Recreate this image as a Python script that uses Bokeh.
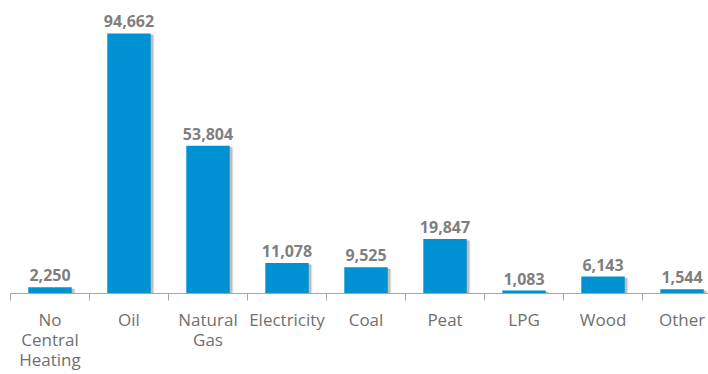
from bokeh.plotting import figure
from bokeh.models import Range1d, FixedTicker, ColumnDataSource, LabelSet
from bokeh.transform import dodge
from bokeh.core.properties import value
from bokeh.embed import file_html
from bokeh.resources import INLINE

categories = ["No\nCentral\nHeating", "Oil", "Natural\nGas", "Electricity", "Coal",
              "Peat", "LPG", "Wood", "Other"]
values = [2250, 94662, 53804, 11078, 9525, 19847, 1083, 6143, 1544]
value_labels = ["2,250", "94,662", "53,804", "11,078", "9,525", "19,847", "1,083", "6,143", "1,544"]

xs = [i + 0.5 for i in range(len(categories))]
src = ColumnDataSource(dict(x=xs, top=values, lab=value_labels))

p = figure(frame_width=698, frame_height=293, output_backend="svg", toolbar_location=None,
           x_range=Range1d(0, 8.835), y_range=Range1d(0, 106660),
           min_border_left=10, min_border_right=0, min_border_top=0, min_border_bottom=0)
p.outline_line_color = None
p.grid.visible = False
p.yaxis.visible = False

# soft shadow
p.vbar(x=dodge("x", 0.045, range=p.x_range), top=dodge("top", -600, range=p.y_range),
       width=0.55, color="#000000", alpha=0.12, line_color=None, source=src)
p.vbar(x=dodge("x", 0.03, range=p.x_range), top=dodge("top", -400, range=p.y_range),
       width=0.55, color="#000000", alpha=0.15, line_color=None, source=src)
p.vbar(x="x", top="top", width=0.55, color="#0091D2", line_color=None, source=src)

labels = LabelSet(x="x", y="top", text="lab", source=src, text_align="center",
                  text_baseline="bottom", y_offset=6, text_font=value("Open Sans"),
                  text_font_style="bold", text_font_size="16px", text_color="#7F7F7F")
p.add_layout(labels)

ax = p.xaxis[0]
ax.ticker = FixedTicker(ticks=xs, minor_ticks=list(range(len(categories) + 1)))
ax.major_label_overrides = {x: c for x, c in zip(xs, categories)}
ax.major_tick_out = 0
ax.major_tick_in = 0
ax.minor_tick_out = 7
ax.minor_tick_in = 0
ax.minor_tick_line_color = "#A6A6A6"
ax.axis_line_color = "#A6A6A6"
ax.axis_line_width = 1.2
ax.major_label_standoff = 7
ax.major_label_text_font = "Open Sans"
ax.major_label_text_font_size = "17px"
ax.major_label_text_color = "#707070"
ax.major_label_text_line_height = 0.89

open("out.html", "w").write(file_html(p, INLINE))
